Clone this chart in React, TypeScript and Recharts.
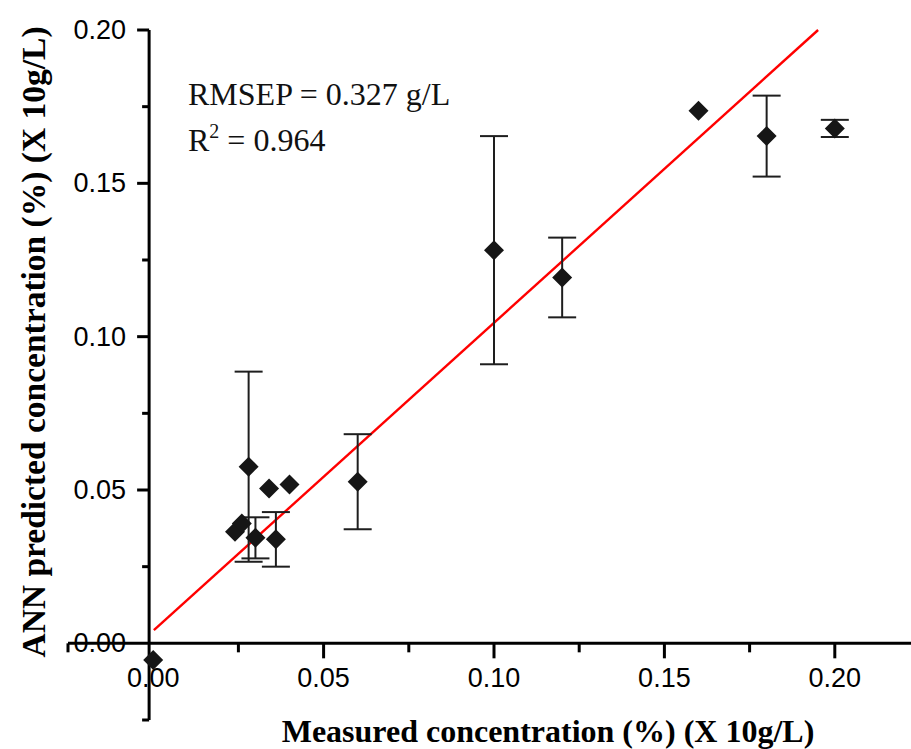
import React from "react";
import {
  ScatterChart, Scatter, XAxis, YAxis, ErrorBar, ReferenceLine, ReferenceDot
} from "recharts";

// measured vs ANN predicted concentration (%) (X 10g/L)
const measured = [0.0, 0.024, 0.026, 0.028, 0.030, 0.034, 0.036, 0.040, 0.060, 0.100, 0.120, 0.160, 0.180, 0.200];
const predicted = [-0.0054, 0.0364, 0.0391, 0.0576, 0.0344, 0.0505, 0.0339, 0.0518, 0.0527, 0.1282, 0.1193, 0.1737, 0.1654, 0.1679];
const errors = [0, 0, 0, 0.031, 0.0067, 0, 0.0089, 0, 0.0155, 0.0372, 0.013, 0, 0.0132, 0.0028];

// fitted line, end points
const fitX = [0.0002, 0.1951];
const fitY = [0.0043, 0.2];

const xTicks = [0, 0.05, 0.1, 0.15, 0.2];
const xMinor = [-0.025, 0.025, 0.075, 0.125, 0.175];
const yTicks = [0, 0.05, 0.1, 0.15, 0.2];
const yMinor = [-0.025, 0.025, 0.075, 0.125, 0.175];

const X_DOMAIN = [-0.025, 0.225];
const Y_DOMAIN = [-0.025, 0.2];
const AXIS_X = -0.0012;

const SANS = "'Liberation Sans', Arial, sans-serif";
const SERIF = "'Liberation Serif', 'Times New Roman', serif";

const data = measured.map((x, i) => ({ x, y: predicted[i], err: errors[i] }));

const Diamond = ({ cx, cy }: any) => {
  const r = 10;
  return (
    <polygon
      points={`${cx},${cy - r} ${cx + r},${cy} ${cx},${cy + r} ${cx - r},${cy}`}
      fill="#161616"
    />
  );
};

const xTickShape = (label: string | null, len: number) => ({ cx, cy }: any) => (
  <g>
    {len > 0 && (label !== "0.00") && (
      <line x1={cx} y1={cy} x2={cx} y2={cy + len} stroke="#000" strokeWidth={3} />
    )}
    {label && (
      <text x={cx} y={cy + 35} textAnchor="middle" dominantBaseline="central"
        fontFamily={SANS} fontSize={27} fill="#000">{label}</text>
    )}
  </g>
);

const yTickShape = (label: string | null, len: number) => ({ cx, cy }: any) => (
  <g>
    {len > 0 && (label !== "0.00") && (
      <line x1={cx - len} y1={cy} x2={cx} y2={cy} stroke="#000" strokeWidth={3} />
    )}
    {label && (
      <text x={cx - 23} y={cy} textAnchor="end" dominantBaseline="central"
        fontFamily={SANS} fontSize={27} fill="#000">{label}</text>
    )}
  </g>
);

export default function App() {
  return (
    <div style={{ position: "absolute", left: 0, top: 0, width: 911, height: 749, overflow: "hidden", background: "#fff" }}>
      <ScatterChart width={920} height={749} margin={{ top: 30, right: 0, bottom: 29, left: 68 }}>
        <XAxis type="number" dataKey="x" domain={X_DOMAIN} allowDataOverflow hide />
        <YAxis type="number" dataKey="y" domain={Y_DOMAIN} allowDataOverflow hide />

        <ReferenceLine x={AXIS_X} stroke="#000" strokeWidth={3} ifOverflow="visible" />
        <ReferenceLine y={0} stroke="#000" strokeWidth={3} ifOverflow="visible" />

        {xTicks.map((v) => (
          <ReferenceDot key={"xt" + v} x={v} y={0} r={0} ifOverflow="visible"
            shape={xTickShape(v.toFixed(2), 15)} />
        ))}
        {xMinor.map((v) => (
          <ReferenceDot key={"xm" + v} x={v} y={0} r={0} ifOverflow="visible"
            shape={xTickShape(null, 9)} />
        ))}
        {yTicks.map((v) => (
          <ReferenceDot key={"yt" + v} x={AXIS_X} y={v} r={0} ifOverflow="visible"
            shape={yTickShape(v.toFixed(2), 12)} />
        ))}
        {yMinor.map((v) => (
          <ReferenceDot key={"ym" + v} x={AXIS_X} y={v} r={0} ifOverflow="visible"
            shape={yTickShape(null, 7)} />
        ))}

        <ReferenceLine
          segment={[{ x: fitX[0], y: fitY[0] }, { x: fitX[1], y: fitY[1] }]}
          stroke="#ff0000" strokeWidth={2.4} ifOverflow="visible"
        />

        <Scatter data={data} shape={<Diamond />} isAnimationActive={false}>
          <ErrorBar dataKey="err" direction="y" width={14} stroke="#1e1e1e" strokeWidth={2} isAnimationActive={false} />
        </Scatter>

        <text x={188} y={105} fontFamily={SERIF} fontSize={32} fill="#111">RMSEP = 0.327 g/L</text>
        <text x={188} y={151} fontFamily={SERIF} fontSize={32} fill="#111">
          R<tspan dy={-13} fontSize={20}>2</tspan><tspan dy={13}> = 0.964</tspan>
        </text>

        <text x={548} y={731} textAnchor="middle" dominantBaseline="central"
          fontFamily={SERIF} fontWeight="bold" fontSize={32} fill="#000">
          Measured concentration (%) (X 10g/L)
        </text>
        <text x={33} y={342} textAnchor="middle" dominantBaseline="central"
          transform="rotate(-90 33 342)"
          fontFamily={SERIF} fontWeight="bold" fontSize={33.5} fill="#000">
          ANN predicted concentration (%) (X 10g/L)
        </text>
      </ScatterChart>
    </div>
  );
}
